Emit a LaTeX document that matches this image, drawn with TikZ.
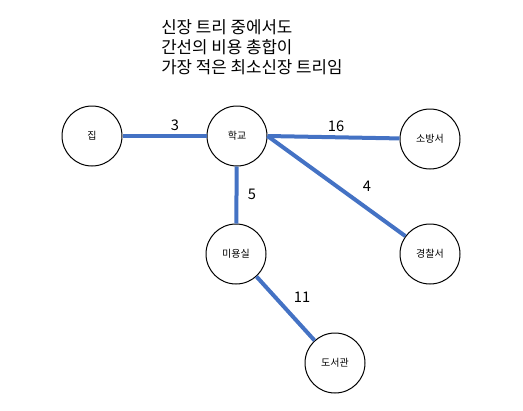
\documentclass[tikz,border=0pt]{standalone}
\usepackage{fontspec}
\setmainfont{Noto Sans CJK KR}
\definecolor{edgeblue}{HTML}{4472C4}
\begin{document}
\begin{tikzpicture}[x=0.75pt,y=-0.75pt,
  place/.style={circle,draw=black,line width=0.75pt,minimum size=45pt,inner sep=0pt,font=\fontsize{7.5}{9}\selectfont},
  link/.style={draw=edgeblue,line width=3pt},
  weight/.style={font=\fontsize{11}{13}\selectfont,inner sep=0pt}]
\useasboundingbox (0,0) rectangle (523,410);
\node[anchor=north west,align=left,inner sep=0pt,font=\fontsize{12.6}{15}\selectfont] (title) at (161,19)
  {신장 트리 중에서도\\간선의 비용 총합이\\가장 적은 최소신장 트리임};
\node[place] (home) at (92,136) {집};
\node[place] (school) at (237,136) {학교};
\node[place] (fire) at (430,139) {소방서};
\node[place] (police) at (430,254) {경찰서};
\node[place] (salon) at (236,254) {미용실};
\node[place] (library) at (335,363) {도서관};
\draw[link] (home) -- (school);
\draw[link] (school.east) -- (fire);
\draw[link] (school.east) -- (police);
\draw[link] (school) -- (salon);
\draw[link] (salon) -- (library);
\node[weight] (w3) at (175,125) {3};
\node[weight] (w16) at (336,126) {16};
\node[weight] (w4) at (367,186) {4};
\node[weight] (w5) at (252,194) {5};
\node[weight] (w11) at (302,297) {11};
\end{tikzpicture}
\end{document}
